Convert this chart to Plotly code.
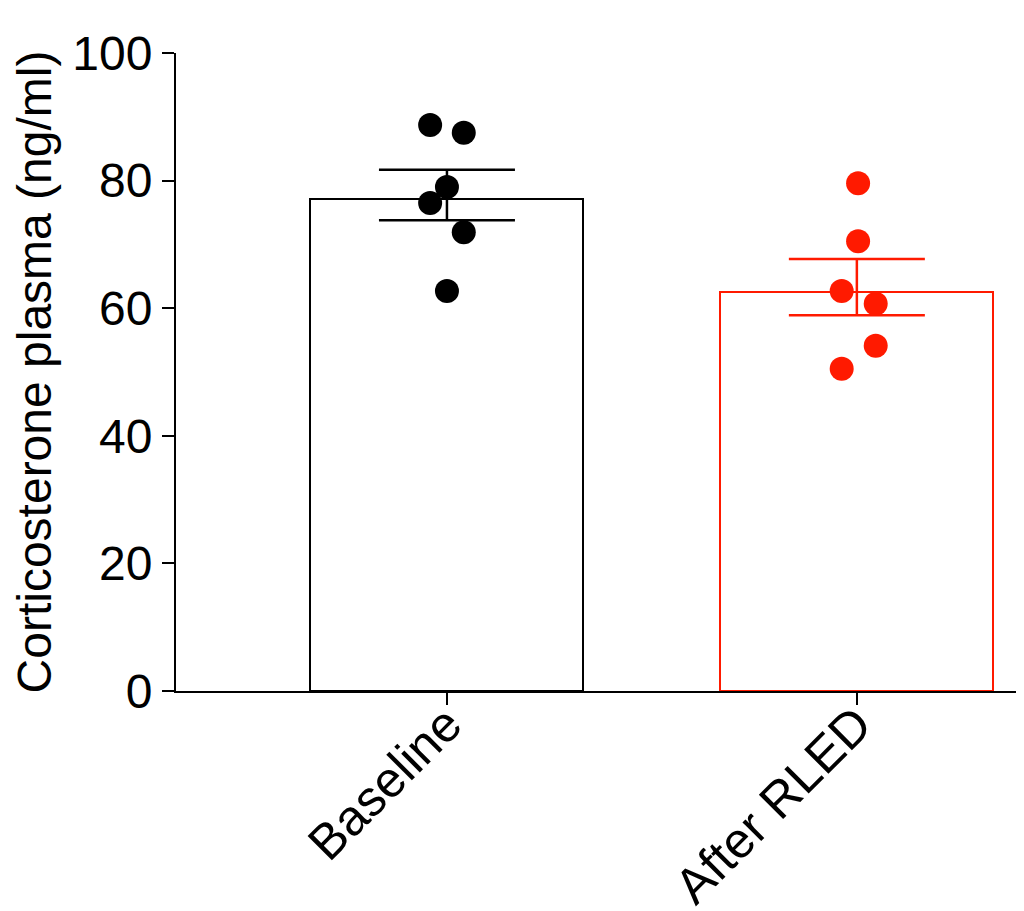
import plotly.graph_objects as go

categories = ["Baseline", "After RLED"]
bar_means = [77.1, 62.5]
err_upper = [81.7, 67.7]
err_lower = [73.8, 58.9]
baseline_points = [88.7, 87.5, 79.0, 76.5, 71.9, 62.7]
rled_points = [79.6, 70.5, 62.7, 60.7, 54.1, 50.5]
y_ticks = [0, 20, 40, 60, 80, 100]

colors = ["black", "#ff1a00"]
# horizontal scatter offsets (in category units) for the dots
offsets_base = [-0.041, 0.041, 0.0, -0.041, 0.041, 0.0]
offsets_rled = [0.003, 0.003, -0.037, 0.046, 0.046, -0.037]

fig = go.Figure()
for i, cat in enumerate(categories):
    fig.add_trace(go.Bar(
        x=[i], y=[bar_means[i]], width=0.666,
        marker=dict(color="white", line=dict(color=colors[i], width=2)),
        error_y=dict(type="data", symmetric=False,
                     array=[err_upper[i] - bar_means[i]],
                     arrayminus=[bar_means[i] - err_lower[i]],
                     color=colors[i], thickness=2.5, width=68),
        showlegend=False, hoverinfo="skip",
    ))

for i, (pts, offs) in enumerate([(baseline_points, offsets_base), (rled_points, offsets_rled)]):
    fig.add_trace(go.Scatter(
        x=[i + o for o in offs], y=pts, mode="markers",
        marker=dict(color=colors[i], size=24, line=dict(width=0)),
        showlegend=False,
    ))

font_family = "Liberation Sans, Arial, sans-serif"
fig.update_layout(
    width=1024, height=911,
    margin=dict(l=168, r=12, t=45, b=228),
    plot_bgcolor="white", paper_bgcolor="white",
    font=dict(family=font_family, color="black", size=48),
    xaxis=dict(
        range=[-0.661, 1.398], tickmode="array", tickvals=[0, 1], ticktext=categories,
        tickangle=-45, showline=True, linecolor="black", linewidth=2,
        ticks="outside", ticklen=12, tickwidth=2, tickcolor="black",
        showgrid=False, zeroline=False, tickfont=dict(size=50), automargin=False,
        ticklabelstandoff=-30,
    ),
    yaxis=dict(
        range=[0, 100], tickmode="array", tickvals=y_ticks,
        showline=True, linecolor="black", linewidth=2,
        ticks="outside", ticklen=12, tickwidth=2, tickcolor="black",
        showgrid=False, zeroline=False, tickfont=dict(size=48), automargin=False,
        title=dict(text="Corticosterone plasma (ng/ml)", font=dict(size=48), standoff=12),
    ),
    bargap=0,
)

fig.write_html("out.html")
